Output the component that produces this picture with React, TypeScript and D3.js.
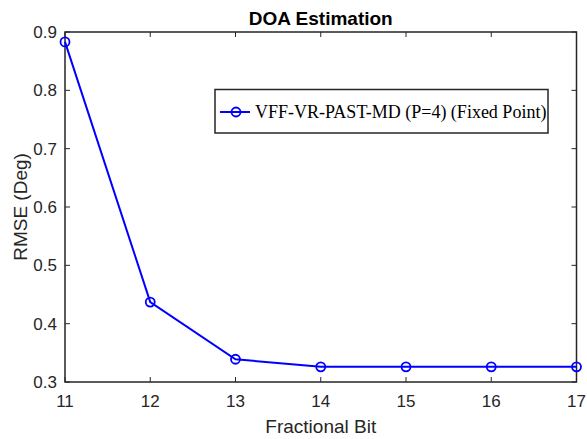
import React from "react";
import * as d3 from "d3";

const bits = [11, 12, 13, 14, 15, 16, 17];
const rmse = [0.883, 0.437, 0.339, 0.326, 0.326, 0.326, 0.326];
const xTicks = [11, 12, 13, 14, 15, 16, 17];
const yTicks = [0.3, 0.4, 0.5, 0.6, 0.7, 0.8, 0.9];
const seriesName = "VFF-VR-PAST-MD (P=4) (Fixed Point)";

const W = 587, H = 439;
const L = 65, R = 576.5, T = 32, B = 382;

export default function App() {
  const x = d3.scaleLinear().domain([11, 17]).range([L, R]);
  const y = d3.scaleLinear().domain([0.3, 0.9]).range([B, T]);
  const line = d3.line<number>().x((_, i) => x(bits[i])).y((d) => y(d));
  const ax = "#262626";
  const font = "Arial, 'Liberation Sans', sans-serif";
  return (
    <svg width={W} height={H} style={{ position: "absolute", left: 0, top: 0, background: "#fff" }}>
      <rect x={0} y={0} width={W} height={H} fill="#fff" />
      <text x={(L + R) / 2} y={25} textAnchor="middle" fontFamily={font} fontWeight="bold" fontSize={19} fill="#000">DOA Estimation</text>
      {xTicks.map((t) => (
        <g key={"x" + t}>
          <line x1={x(t)} x2={x(t)} y1={B} y2={B - 5} stroke={ax} />
          <line x1={x(t)} x2={x(t)} y1={T} y2={T + 5} stroke={ax} />
          <text x={x(t)} y={407} textAnchor="middle" fontFamily={font} fontSize={17} fill={ax}>{t}</text>
        </g>
      ))}
      {yTicks.map((t) => (
        <g key={"y" + t}>
          <line x1={L} x2={L + 5} y1={y(t)} y2={y(t)} stroke={ax} />
          <line x1={R} x2={R - 5} y1={y(t)} y2={y(t)} stroke={ax} />
          <text x={L - 8} y={y(t) + 6} textAnchor="end" fontFamily={font} fontSize={17} fill={ax}>{t.toFixed(1)}</text>
        </g>
      ))}
      <rect x={L} y={T} width={R - L} height={B - T} fill="none" stroke={ax} strokeWidth={1.5} />
      <path d={line(rmse) || ""} fill="none" stroke="#0000ff" strokeWidth={2} />
      {rmse.map((v, i) => (
        <circle key={i} cx={x(bits[i])} cy={y(v)} r={4.5} fill="none" stroke="#0000ff" strokeWidth={1.8} />
      ))}
      <text x={(L + R) / 2} y={433} textAnchor="middle" fontFamily={font} fontSize={19} fill={ax}>Fractional Bit</text>
      <text transform={`translate(27,${(T + B) / 2}) rotate(-90)`} textAnchor="middle" fontFamily={font} fontSize={19} fill={ax}>RMSE (Deg)</text>
      <g>
        <rect x={215} y={89.5} width={333} height={43.5} fill="#fff" stroke={ax} strokeWidth={1.5} />
        <line x1={220} x2={250} y1={112} y2={112} stroke="#0000ff" strokeWidth={2} />
        <circle cx={236} cy={112} r={4.5} fill="none" stroke="#0000ff" strokeWidth={1.8} />
        <text x={255} y={118} fontFamily="'Liberation Serif', 'Times New Roman', serif" fontSize={18} fill="#000">{seriesName}</text>
      </g>
    </svg>
  );
}
